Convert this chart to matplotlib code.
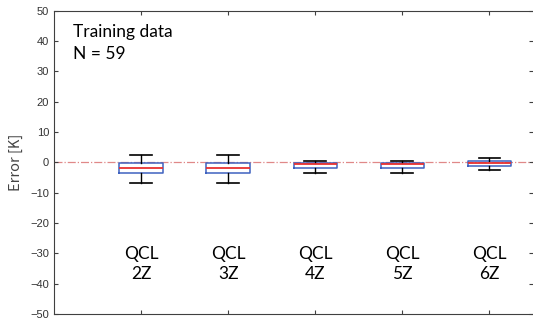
import matplotlib.pyplot as plt

# Fehlerstatistik je Modell (Trainingsdaten)
labels = ["QCL\n2Z", "QCL\n3Z", "QCL\n4Z", "QCL\n5Z", "QCL\n6Z"]
whislo = [-6.9, -6.9, -3.4, -3.4, -2.6]
q1 = [-3.5, -3.5, -1.75, -1.75, -1.2]
med = [-1.75, -1.8, -0.4, -0.4, -0.3]
q3 = [-0.2, -0.2, -0.1, -0.1, 0.56]
whishi = [2.4, 2.4, 0.56, 0.56, 1.55]
n_samples = 59

stats = []
for i in range(len(labels)):
    stats.append({"whislo": whislo[i], "q1": q1[i], "med": med[i],
                  "q3": q3[i], "whishi": whishi[i], "fliers": []})

fig = plt.figure(figsize=(5.33, 3.2), dpi=100)
ax = fig.add_axes([54 / 533, 6 / 320, 479 / 533, 303.3 / 320])

pos = list(range(1, len(labels) + 1))
ax.axhline(0, color="#E08888", lw=0.9, ls="-.", zorder=1)
ax.bxp(stats, positions=pos, widths=0.5, showfliers=False,
       boxprops=dict(color="#3F62C0", lw=1.1),
       medianprops=dict(color="#E83030", lw=1.3),
       whiskerprops=dict(color="black", lw=1.0, ls="-"),
       capprops=dict(color="black", lw=1.2))

ax.set_xlim(0, 5.5)
ax.set_ylim(-50, 50)
ax.set_xticks(pos)
ax.set_xticklabels([])
ax.set_yticks(range(-50, 51, 10))
ax.tick_params(direction="in", length=3, width=0.8, color="#404040",
               top=True, right=True, labelsize=8, labelcolor="#333333")
for lab in ax.get_yticklabels():
    lab.set_fontfamily("Liberation Sans")
ax.spines["right"].set_visible(False)
for s in ["left", "top", "bottom"]:
    ax.spines[s].set_color("#404040")
    ax.spines[s].set_linewidth(0.8)

ax.set_ylabel("Error [K]", family=["Noto Sans CJK JP", "DejaVu Sans"],
              fontsize=10.5, color="#444444", labelpad=5)

ax.text(0.04, 0.955, "Training data\nN = %d" % n_samples, transform=ax.transAxes,
        family="Lato", fontsize=12.5, va="top", ha="left", linespacing=1.45)

for p, lab in zip(pos, labels):
    ax.text(p, -33.5, lab, family="Lato", fontsize=12.5, ha="center",
            va="center", linespacing=1.25)

fig.savefig("out.png", dpi=100)
